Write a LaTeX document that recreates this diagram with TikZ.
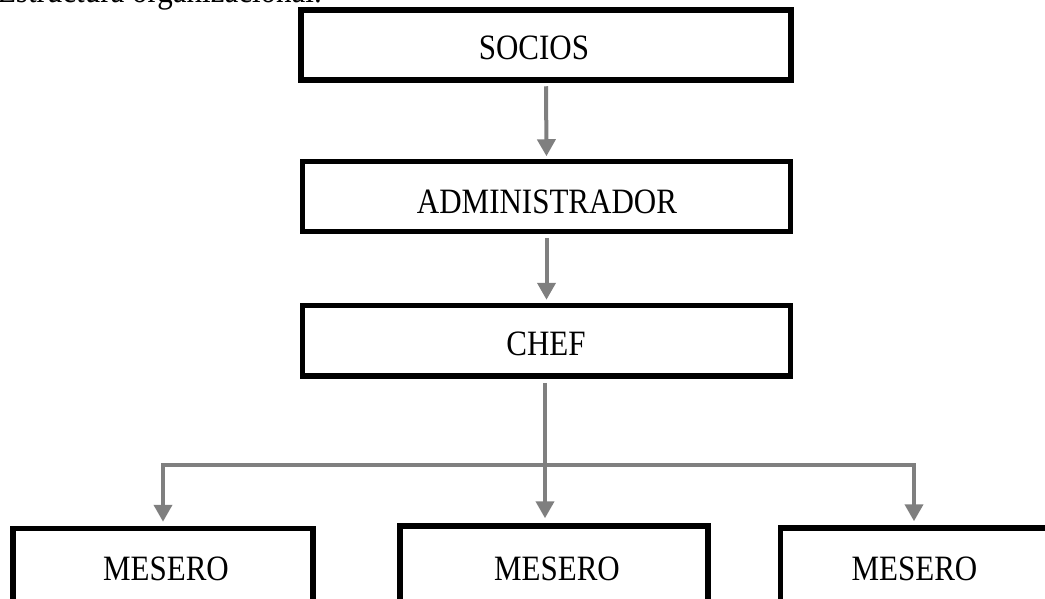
\documentclass[tikz,border=0pt]{standalone}
\usepackage{fontspec}
\setmainfont{Liberation Serif}
\usetikzlibrary{arrows.meta}
\definecolor{conn}{HTML}{7F7F7F}
\begin{document}
\begin{tikzpicture}[x=1pt,y=-1pt,
  box/.style={draw=black, line width=5.5pt, inner sep=0pt, rectangle, minimum height=70pt},
  lbl/.style={anchor=base, inner sep=0pt, font=\fontsize{31}{37}\selectfont},
  arr/.style={draw=conn, line width=4pt, -{Triangle[width=18pt,length=17pt]}},
  ln/.style={draw=conn, line width=4pt}]
\useasboundingbox (0,0) rectangle (1045,598);
\clip (0,0) rectangle (1045,598);
% cut-off caption line at top
\node[lbl, anchor=base east] (cap) at (322,2) {\scalebox{1}[1.15]{Estructura organizacional.}};
% boxes
\node[box, minimum width=490pt] (socios) at (546,45) {};
\node[box, minimum width=488pt] (admin) at (546.5,196.5) {};
\node[box, minimum width=488pt, minimum height=70.5pt] (chef) at (546.5,340.75) {};
\node[box, minimum width=300pt, minimum height=120pt] (m1) at (163,588.5) {};
\node[box, minimum width=308pt, minimum height=120pt] (m2) at (554,586) {};
\node[box, minimum width=267pt, minimum height=120pt] (m3) at (914,588) {};
% texts
\node[lbl] (tsocios) at (534,59) {\scalebox{1}[1.15]{SOCIOS}};
\node[lbl] (tadmin) at (547,213) {\scalebox{1}[1.15]{ADMINISTRADOR}};
\node[lbl] (tchef) at (546,355) {\scalebox{1}[1.15]{CHEF}};
\node[lbl] (tm1) at (166,580) {\scalebox{1}[1.15]{MESERO}};
\node[lbl] (tm2) at (557,580) {\scalebox{1}[1.15]{MESERO}};
\node[lbl] (tm3) at (914.5,580) {\scalebox{1}[1.15]{MESERO}};
% connectors
\coordinate (bus) at (545,465);
\draw[arr, shorten <=3.5pt, shorten >=2.5pt] (socios.south) -- (admin.north);
\draw[arr, shorten <=3.5pt, shorten >=3pt] (admin.south) -- (chef.north);
\draw[ln, shorten <=4pt] (chef.south -| bus) -- (bus);
\draw[arr, shorten >=4pt] (bus) -| (m1.north);
\draw[arr, shorten >=4pt] (bus) -| (m3.north);
\draw[arr, shorten >=5pt] (bus) -- (bus |- m2.north);
\end{tikzpicture}
\end{document}
